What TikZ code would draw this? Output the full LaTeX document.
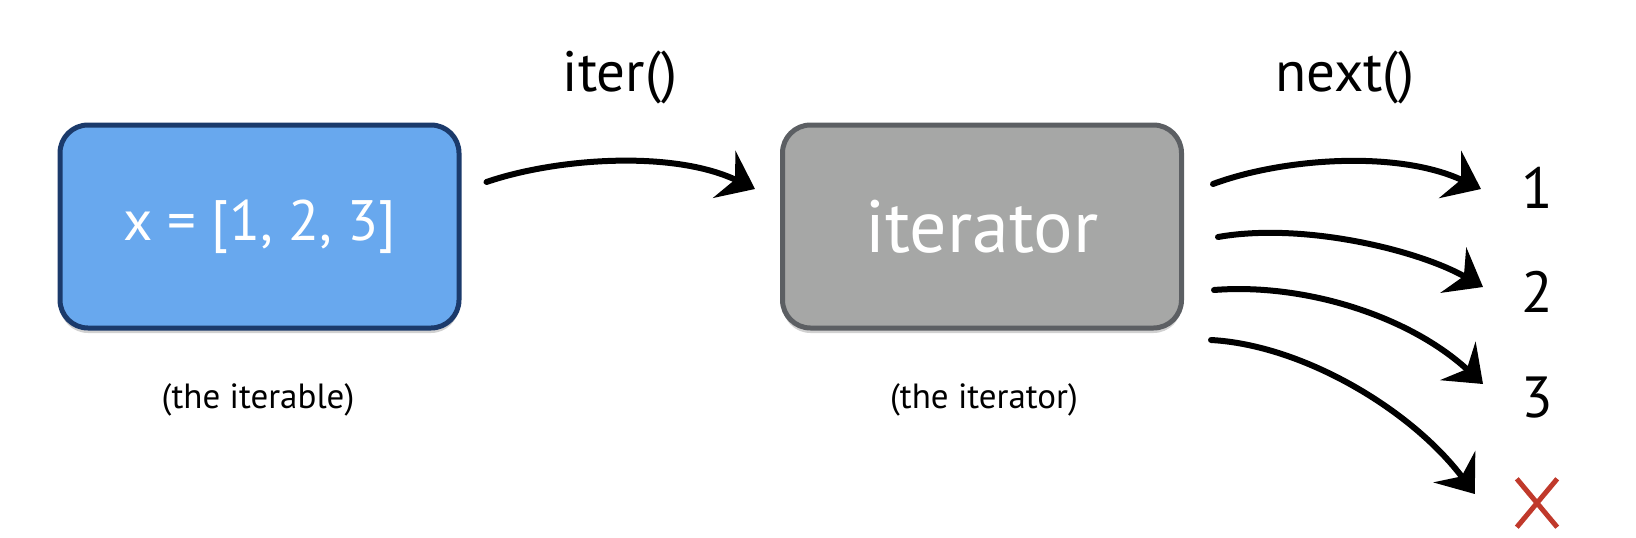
\documentclass[tikz,border=0pt]{standalone}
\usepackage{fontspec}
\setmainfont{PT Sans}
\usetikzlibrary{arrows.meta,shadows,calc}
\definecolor{boxblue}{HTML}{68A8EE}
\definecolor{boxnavy}{HTML}{1B3A6B}
\definecolor{boxgray}{HTML}{A6A7A6}
\definecolor{boxgrayline}{HTML}{5C5F63}
\definecolor{crossred}{HTML}{C0392B}
\tikzset{
  basebox/.style={rounded corners=28pt, line width=5pt, minimum width=399pt, minimum height=203pt, inner sep=0pt,
    drop shadow={shadow xshift=0pt, shadow yshift=-5pt, opacity=0.18, fill=black}},
  bluebox/.style={basebox, fill=boxblue, draw=boxnavy, text=white, font=\fontsize{57}{60}\selectfont},
  graybox/.style={basebox, fill=boxgray, draw=boxgrayline, text=white, font=\fontsize{74}{80}\selectfont},
  caption/.style={anchor=base, inner sep=0pt, font=\fontsize{35}{38}\selectfont},
  method/.style={anchor=base, inner sep=0pt, font=\fontsize{57}{60}\selectfont},
  result/.style={anchor=base, inner sep=0pt, font=\fontsize{58}{60}\selectfont},
  sketcharrow/.style={line width=6pt, line cap=round, -{Stealth[length=34pt, width=52pt, inset=12pt]}},
  crossline/.style={draw=crossred, line width=5pt}
}
\begin{document}
\begin{tikzpicture}[x=1pt,y=-1pt]
\useasboundingbox (0,0) rectangle (1636,538);
% boxes
\node[bluebox] (blue) at (259.5,226.5) {x = [1, 2, 3]};
\node[graybox] (gray) at (982,226.5) {iterator};
% captions
\node[caption] (cap1) at (258,408) {(the iterable)};
\node[caption] (cap2) at (984,408) {(the iterator)};
% method labels
\node[method] (iter) at (620,91) {iter()};
\node[method] (next) at (1345,91) {next()};
% results
\node[result] (n1) at (1537,208) {1};
\node[result] (n2) at (1537,312) {2};
\node[result] (n3) at (1537,417) {3};
\node[inner sep=0pt, minimum width=40pt, minimum height=48pt] (nx) at (1537,503) {};
\draw[crossline] (nx.north west) -- (nx.south east);
\draw[crossline] (nx.north east) -- (nx.south west);
% arrow endpoints
\coordinate (s0) at ($(blue.east)+(25,-44.5)$);
\coordinate (t0) at ($(gray.west)+(-25,-37.5)$);
\coordinate (s1) at ($(gray.east)+(29,-42.5)$);
\coordinate (s2) at ($(gray.east)+(34,10.5)$);
\coordinate (s3) at ($(gray.east)+(30,63.5)$);
\coordinate (s4) at ($(gray.east)+(27,113.5)$);
\coordinate (t1) at ($(n1.base west)+(-40,-19)$);
\coordinate (t2) at ($(n2.base west)+(-38,-25)$);
\coordinate (t3) at ($(n3.base west)+(-38,-33)$);
\coordinate (t4) at ($(nx.west)+(-42,-9)$);
% arrows
\draw[sketcharrow] (s0) .. controls ($(s0)+(70,-24)$) and ($(t0)+(-82,-39)$) .. (t0);
\draw[sketcharrow] (s1) .. controls ($(s1)+(70,-26)$) and ($(t1)+(-83,-39)$) .. (t1);
\draw[sketcharrow] (s2) .. controls ($(s2)+(85,-15)$) and ($(t2)+(-65,-37)$) .. (t2);
\draw[sketcharrow] (s3) .. controls ($(s3)+(89,-7)$) and ($(t3)+(-75,-69)$) .. (t3);
\draw[sketcharrow] (s4) .. controls ($(s4)+(92,5)$) and ($(t4)+(-63,-84)$) .. (t4);
\end{tikzpicture}
\end{document}
